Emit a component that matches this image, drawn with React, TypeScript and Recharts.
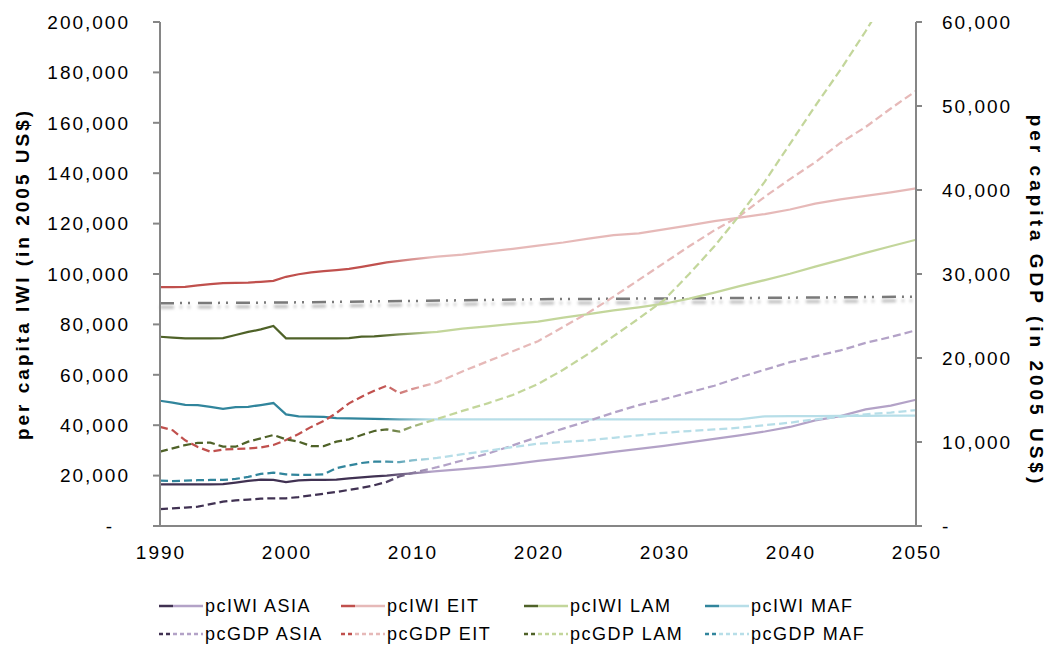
import React from 'react'
import { LineChart, Line, XAxis, YAxis } from 'recharts'

// yearly to 2010, every two years after that
const years = [
  1990, 1991, 1992, 1993, 1994, 1995, 1996, 1997, 1998, 1999, 2000,
  2001, 2002, 2003, 2004, 2005, 2006, 2007, 2008, 2009, 2010,
  2012, 2014, 2016, 2018, 2020, 2022, 2024, 2026, 2028, 2030,
  2032, 2034, 2036, 2038, 2040, 2042, 2044, 2046, 2048, 2050,
]

// per capita IWI (left axis)
const iwiAsia = [
  16500, 16500, 16500, 16500, 16500, 16600, 17200, 17900, 18400, 18300, 17400,
  18100, 18300, 18300, 18400, 18900, 19300, 19700, 20000, 20500, 20900,
  21800, 22600, 23500, 24600, 25800, 26900, 28100, 29400, 30600, 31800,
  33200, 34600, 36000, 37500, 39300, 41900, 43600, 46300, 47800, 50100,
]
const iwiEit = [
  94800, 94800, 94900, 95500, 96000, 96400, 96500, 96600, 96900, 97300, 98900,
  99900, 100600, 101100, 101500, 102000, 102800, 103700, 104600, 105200, 105800,
  106900, 107700, 108900, 110000, 111300, 112500, 114000, 115400, 116100, 117700,
  119300, 121000, 122400, 123800, 125600, 127900, 129600, 131000, 132400, 134000,
]
const iwiLam = [
  75100, 74800, 74500, 74500, 74500, 74600, 75800, 77000, 78000, 79400, 74500,
  74500, 74500, 74500, 74500, 74600, 75100, 75200, 75600, 76000, 76300,
  77000, 78300, 79200, 80200, 81100, 82700, 84100, 85600, 86800, 88200,
  90200, 92600, 95200, 97600, 100100, 102900, 105600, 108400, 111000, 113600,
]
const iwiMaf = [
  49700, 49000, 48100, 48000, 47300, 46500, 47200, 47300, 48000, 48800, 44300,
  43500, 43400, 43300, 42800, 42700, 42600, 42500, 42400, 42300, 42300,
  42300, 42300, 42300, 42300, 42300, 42300, 42300, 42300, 42300, 42300,
  42300, 42300, 42300, 43500, 43600, 43600, 43700, 43700, 43800, 43800,
]

// per capita GDP (right axis)
const gdpAsia = [
  2000, 2100, 2200, 2300, 2600, 2900, 3050, 3150, 3250, 3300, 3300,
  3450, 3650, 3850, 4050, 4300, 4550, 4850, 5250, 5900, 6300,
  7000, 7800, 8600, 9600, 10600, 11600, 12500, 13500, 14400, 15100,
  15900, 16700, 17700, 18600, 19500, 20200, 20900, 21800, 22500, 23300,
]
const gdpEit = [
  11800, 11400, 10200, 9400, 8850, 9100, 9170, 9230, 9350, 9640, 10240,
  10950, 11800, 12500, 13450, 14600, 15400, 16100, 16700, 15800, 16300,
  17100, 18400, 19600, 20800, 22000, 23700, 25400, 27300, 29300, 31300,
  33300, 35200, 36900, 39200, 41300, 43300, 45600, 47500, 49700, 51800,
]
const gdpLam = [
  8850, 9250, 9640, 9900, 9920, 9450, 9440, 10040, 10440, 10830, 10320,
  10040, 9520, 9520, 10040, 10320, 10830, 11310, 11510, 11230, 11820,
  12750, 13700, 14600, 15600, 16900, 18600, 20500, 22600, 24700, 26900,
  30000, 33300, 37000, 41000, 45500, 50000, 54300, 58900, 63800, 69000,
]
const gdpMaf = [
  5400, 5350, 5400, 5450, 5480, 5480, 5600, 5850, 6200, 6350, 6150,
  6100, 6100, 6150, 6900, 7200, 7500, 7650, 7650, 7600, 7800,
  8100, 8550, 8950, 9400, 9800, 10000, 10200, 10500, 10800, 11100,
  11300, 11500, 11700, 12000, 12300, 12700, 13000, 13300, 13500, 13800,
]

// grey dash-dot line (not in the legend)
const refYears = [1990, 2000, 2010, 2020, 2030, 2040, 2050]
const refValues = [88400, 88700, 89300, 90000, 90300, 90600, 91000]

const xTicks = [1990, 2000, 2010, 2020, 2030, 2040, 2050]
const leftTicks = [0, 20000, 40000, 60000, 80000, 100000, 120000, 140000, 160000, 180000, 200000]
const rightTicks = [0, 10000, 20000, 30000, 40000, 50000, 60000]

const data = years.map((year, i) => {
  const r = refYears.indexOf(year)
  return {
    year,
    iwiAsia: iwiAsia[i],
    iwiEit: iwiEit[i],
    iwiLam: iwiLam[i],
    iwiMaf: iwiMaf[i],
    gdpAsia: gdpAsia[i],
    gdpEit: gdpEit[i],
    gdpLam: gdpLam[i],
    gdpMaf: gdpMaf[i],
    ref: r >= 0 ? refValues[r] : null,
  }
})

const series = [
  { key: 'iwiAsia', name: 'pcIWI ASIA', axis: 'left', dark: '#403152', light: '#b3a2c7', dashed: false },
  { key: 'iwiEit', name: 'pcIWI EIT', axis: 'left', dark: '#c0504d', light: '#e6b9b8', dashed: false },
  { key: 'iwiLam', name: 'pcIWI LAM', axis: 'left', dark: '#4f6228', light: '#c3d69b', dashed: false },
  { key: 'iwiMaf', name: 'pcIWI MAF', axis: 'left', dark: '#31859c', light: '#b7dee8', dashed: false },
  { key: 'gdpAsia', name: 'pcGDP ASIA', axis: 'right', dark: '#403152', light: '#b3a2c7', dashed: true },
  { key: 'gdpEit', name: 'pcGDP EIT', axis: 'right', dark: '#c0504d', light: '#e6b9b8', dashed: true },
  { key: 'gdpLam', name: 'pcGDP LAM', axis: 'right', dark: '#4f6228', light: '#c3d69b', dashed: true },
  { key: 'gdpMaf', name: 'pcGDP MAF', axis: 'right', dark: '#31859c', light: '#b7dee8', dashed: true },
]

const FONT = '"Liberation Sans", Arial, sans-serif'
const AXIS = '#868686'
const fmt = (v: number) => v.toLocaleString('en-US')

const LeftTick = (props: any) => {
  const { x, y, payload } = props
  const v = payload.value
  return (
    <text x={v === 0 ? x - 16 : x} y={y} dy="0.355em" textAnchor="end" fill="#000"
      fontSize={19} letterSpacing={2} fontFamily={FONT}>
      {v === 0 ? '-' : fmt(v)}
    </text>
  )
}

const RightTick = (props: any) => {
  const { x, y, payload } = props
  const v = payload.value
  return (
    <text x={x} y={y} dy="0.355em" textAnchor="start" fill="#000"
      fontSize={19} letterSpacing={2} fontFamily={FONT}>
      {v === 0 ? '-' : fmt(v)}
    </text>
  )
}

const BottomTick = (props: any) => {
  const { x, y, payload } = props
  return (
    <text x={x + 1} y={y} dy="0.71em" textAnchor="middle" fill="#000"
      fontSize={19} letterSpacing={2} fontFamily={FONT}>
      {payload.value}
    </text>
  )
}

const LegendIcon = ({ dark, light, dashed }: { dark: string; light: string; dashed: boolean }) => (
  <svg width={44} height={10} style={{ display: 'block' }}>
    <line x1={0} y1={5} x2={14} y2={5} stroke={dark} strokeWidth={2.5}
      strokeDasharray={dashed ? '4 3' : undefined} />
    <line x1={14} y1={5} x2={44} y2={5} stroke={light} strokeWidth={2.5}
      strokeDasharray={dashed ? '4 3' : undefined} />
  </svg>
)

const legendCols = [151, 333, 516, 697]
const legendRows = [587, 615]

export default function App() {
  return (
    <div style={{ position: 'relative', width: 1044, height: 639, fontFamily: FONT }}>
      <LineChart width={1044} height={580} data={data}
        margin={{ top: 14, right: 0, bottom: 22, left: 0 }}>
        <defs>
          {series.map((s) => (
            <linearGradient key={s.key} id={`g-${s.key}`} x1="0" y1="0" x2="1" y2="0">
              <stop offset="0" stopColor={s.dark} />
              <stop offset="0.29" stopColor={s.dark} />
              <stop offset="0.36" stopColor={s.light} />
              <stop offset="1" stopColor={s.light} />
            </linearGradient>
          ))}
          <filter id="refShadow" filterUnits="userSpaceOnUse" x="0" y="0" width="1100" height="700">
            <feDropShadow dx="0" dy="4" stdDeviation="1.8" floodColor="#9a9a9a" floodOpacity="0.8" />
          </filter>
        </defs>
        <XAxis dataKey="year" type="number" domain={[1990, 2050]} ticks={xTicks}
          height={40} tickSize={0} tickMargin={20} tickLine={false}
          axisLine={{ stroke: AXIS, strokeWidth: 2 }} tick={<BottomTick />} />
        <YAxis yAxisId="left" orientation="left" width={152} domain={[0, 200000]}
          ticks={leftTicks} interval={0} tickSize={7} tickMargin={23}
          axisLine={{ stroke: AXIS, strokeWidth: 2 }} tickLine={{ stroke: AXIS, strokeWidth: 2 }}
          tick={<LeftTick />}
          label={{
            content: () => (
              <text transform="translate(14,266) rotate(-90)" textAnchor="middle"
                dominantBaseline="central" fontWeight="bold" fontSize={19}
                letterSpacing={3} fill="#000" fontFamily={FONT}>
                per capita IWI (in 2005 US$)
              </text>
            ),
          }} />
        <YAxis yAxisId="right" orientation="right" width={136} domain={[0, 60000]}
          allowDataOverflow ticks={rightTicks} interval={0} tickSize={6} tickMargin={20}
          axisLine={{ stroke: AXIS, strokeWidth: 2 }} tickLine={{ stroke: AXIS, strokeWidth: 2 }}
          tick={<RightTick />}
          label={{
            content: () => (
              <text transform="translate(1028,293) rotate(90)" textAnchor="middle"
                dominantBaseline="central" fontWeight="bold" fontSize={19}
                letterSpacing={4} fill="#000" fontFamily={FONT}>
                per capita GDP (in 2005 US$)
              </text>
            ),
          }} />
        <Line yAxisId="left" dataKey="ref" name="reference" stroke="#7a7a7a" strokeWidth={2.5}
          strokeDasharray="14 6 2 6 2 8" connectNulls dot={false} activeDot={false}
          legendType="none" filter="url(#refShadow)" isAnimationActive={false} />
        {series.map((s) => (
          <Line key={s.key} yAxisId={s.axis} dataKey={s.key} name={s.name} type="linear"
            stroke={`url(#g-${s.key})`} strokeWidth={2.25}
            strokeDasharray={s.dashed ? '8 4' : undefined}
            dot={false} activeDot={false} isAnimationActive={false} />
        ))}
      </LineChart>
      {series.map((s, i) => (
        <div key={s.key} style={{
          position: 'absolute', left: legendCols[i % 4], top: legendRows[Math.floor(i / 4)],
          display: 'flex', alignItems: 'center', height: 22, whiteSpace: 'nowrap',
        }}>
          <LegendIcon dark={s.dark} light={s.light} dashed={s.dashed} />
          <span style={{ marginLeft: 2, fontSize: 18, letterSpacing: 1.5, color: '#000' }}>{s.name}</span>
        </div>
      ))}
    </div>
  )
}
